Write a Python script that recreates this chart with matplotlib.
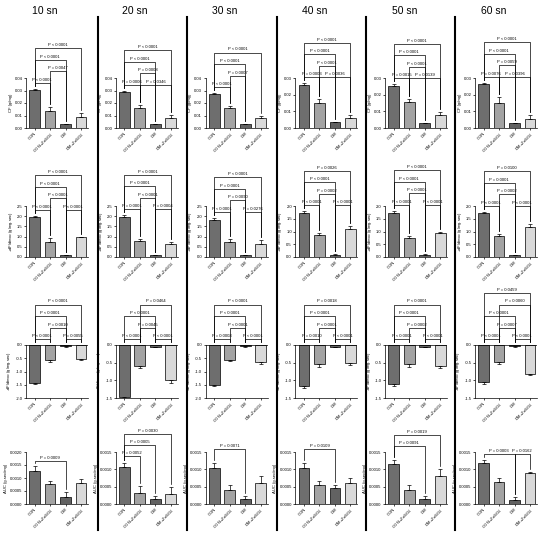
import matplotlib
matplotlib.use('Agg')
import matplotlib.pyplot as plt
from matplotlib.lines import Line2D
from matplotlib.transforms import blended_transform_factory

plt.rcParams['font.family'] = ['Liberation Sans', 'DejaVu Sans']

# groups and time points
groups = ['CON', 'CON+ZnSO$_4$', 'DM', 'DM+ZnSO$_4$']
times = ['10 sn', '20 sn', '30 sn', '40 sn', '50 sn', '60 sn']
bar_colors = ['#6e6e6e', '#a3a3a3', '#626262', '#d9d9d9']

# CF (g/mg)
cf_mean = [[0.0305, 0.0140, 0.0032, 0.0090],
           [0.0290, 0.0158, 0.0030, 0.0078],
           [0.0270, 0.0160, 0.0030, 0.0080],
           [0.0258, 0.0153, 0.0035, 0.0061],
           [0.0252, 0.0155, 0.0030, 0.0080],
           [0.0262, 0.0150, 0.0030, 0.0057]]
cf_err = [[0.0008, 0.0025, 0.0003, 0.0030],
          [0.0008, 0.0025, 0.0003, 0.0030],
          [0.0010, 0.0020, 0.0003, 0.0020],
          [0.0010, 0.0022, 0.0003, 0.0015],
          [0.0010, 0.0020, 0.0003, 0.0015],
          [0.0010, 0.0035, 0.0003, 0.0020]]
cf_top = [0.04, 0.04, 0.04, 0.03, 0.03, 0.03]
cf_p = [[(0, 1, 0, 'P < 0.0001'), (1, 2, 1, 'P = 0.0047'), (0, 2, 2, 'P < 0.0001'), (0, 3, 3, 'P < 0.0001')],
        [(0, 1, 0, 'P = 0.0006'), (1, 3, 0, 'P = 0.0346'), (1, 2, 1, 'P = 0.0008'), (0, 2, 2, 'P < 0.0001'), (0, 3, 3, 'P < 0.0001')],
        [(0, 1, 0, 'P < 0.0001'), (1, 2, 1, 'P = 0.0007'), (0, 2, 2, 'P < 0.0001'), (0, 3, 3, 'P < 0.0001')],
        [(0, 1, 0, 'P = 0.0003'), (1, 3, 0, 'P = 0.0036'), (1, 2, 1, 'P < 0.0001'), (0, 2, 2, 'P < 0.0001'), (0, 3, 3, 'P < 0.0001')],
        [(0, 1, 0, 'P = 0.0015'), (1, 3, 0, 'P = 0.0139'), (1, 2, 1, 'P < 0.0001'), (0, 2, 2, 'P < 0.0001'), (0, 3, 3, 'P < 0.0001')],
        [(0, 1, 0, 'P = 0.0076'), (1, 3, 0, 'P = 0.0396'), (1, 2, 1, 'P = 0.0059'), (0, 2, 2, 'P < 0.0001'), (0, 3, 3, 'P < 0.0001')]]

# +dF/dt max (g/mg.sec)
up_mean = [[1.97, 0.74, 0.08, 0.97],
           [1.95, 0.78, 0.09, 0.65],
           [1.80, 0.75, 0.08, 0.65],
           [1.72, 0.85, 0.08, 1.10],
           [1.72, 0.76, 0.08, 0.95],
           [1.72, 0.82, 0.07, 1.18]]
up_err = [[0.06, 0.18, 0.03, 0.03],
          [0.10, 0.08, 0.03, 0.08],
          [0.12, 0.15, 0.03, 0.20],
          [0.08, 0.10, 0.03, 0.12],
          [0.10, 0.08, 0.03, 0.03],
          [0.05, 0.10, 0.02, 0.10]]
up_top = [2.5, 2.5, 2.5, 2.0, 2.0, 2.0]
up_p = [[(0, 1, 0, 'P < 0.0001'), (2, 3, 0, 'P < 0.0001'), (1, 2, 1, 'P < 0.0001'), (0, 2, 2, 'P < 0.0001'), (0, 3, 3, 'P < 0.0001')],
        [(0, 1, 0, 'P = 0.0001'), (2, 3, 0, 'P = 0.0004'), (1, 2, 1, 'P < 0.0001'), (0, 2, 2, 'P < 0.0001'), (0, 3, 3, 'P < 0.0001')],
        [(0, 1, 0, 'P < 0.0001'), (2, 3, 0, 'P = 0.0276'), (1, 2, 1, 'P = 0.0090'), (0, 2, 2, 'P = 0.0001'), (0, 3, 3, 'P < 0.0001')],
        [(0, 1, 0, 'P < 0.0001'), (2, 3, 0, 'P < 0.0001'), (1, 2, 1, 'P = 0.0002'), (0, 2, 2, 'P < 0.0001'), (0, 3, 3, 'P = 0.0026')],
        [(0, 1, 0, 'P < 0.0001'), (2, 3, 0, 'P < 0.0001'), (1, 2, 1, 'P < 0.0001'), (0, 2, 2, 'P < 0.0001'), (0, 3, 3, 'P < 0.0001')],
        [(0, 1, 0, 'P < 0.0001'), (2, 3, 0, 'P < 0.0001'), (1, 2, 1, 'P = 0.0002'), (0, 2, 2, 'P = 0.0001'), (0, 3, 3, 'P = 0.0100')]]

# -dF/dt max (g/mg.sec)
dn_mean = [[-1.42, -0.57, -0.05, -0.52],
           [-1.48, -0.59, -0.05, -0.98],
           [-1.50, -0.55, -0.05, -0.65],
           [-1.15, -0.55, -0.05, -0.50],
           [-1.10, -0.55, -0.05, -0.60],
           [-1.05, -0.48, -0.04, -0.82]]
dn_err = [[0.05, 0.06, 0.02, 0.05],
          [0.05, 0.06, 0.02, 0.10],
          [0.05, 0.06, 0.02, 0.08],
          [0.06, 0.06, 0.02, 0.06],
          [0.06, 0.06, 0.02, 0.06],
          [0.04, 0.05, 0.02, 0.04]]
dn_bot = [-2.0, -1.5, -2.0, -1.5, -1.5, -1.5]
dn_p = [[(0, 1, 0, 'P < 0.0001'), (2, 3, 0, 'P = 0.0055'), (1, 2, 1, 'P = 0.0010'), (0, 2, 2, 'P < 0.0001'), (0, 3, 3, 'P < 0.0001')],
        [(0, 1, 0, 'P < 0.0001'), (2, 3, 0, 'P < 0.0001'), (1, 2, 1, 'P = 0.0045'), (0, 2, 2, 'P < 0.0001'), (1, 3, 3, 'P = 0.0464')],
        [(0, 1, 0, 'P = 0.0008'), (2, 3, 0, 'P < 0.0001'), (1, 2, 1, 'P < 0.0001'), (0, 2, 2, 'P < 0.0001'), (0, 3, 3, 'P < 0.0001')],
        [(0, 1, 0, 'P = 0.0010'), (2, 3, 0, 'P < 0.0001'), (1, 2, 1, 'P < 0.0001'), (0, 2, 2, 'P < 0.0001'), (0, 3, 3, 'P = 0.0018')],
        [(0, 1, 0, 'P < 0.0001'), (2, 3, 0, 'P < 0.0001'), (1, 2, 1, 'P = 0.0002'), (0, 2, 2, 'P < 0.0001'), (0, 3, 3, 'P < 0.0001')],
        [(0, 1, 0, 'P < 0.0001'), (2, 3, 0, 'P < 0.0001'), (1, 2, 1, 'P = 0.0007'), (0, 2, 2, 'P < 0.0001'), (1, 3, 3, 'P = 0.0060'), (0, 3, 4, 'P = 0.0459')]]

# AUC (g.sec/mg)
auc_mean = [[0.00128, 0.00077, 0.00028, 0.00082],
            [0.00107, 0.00033, 0.00013, 0.00030],
            [0.00105, 0.00040, 0.00015, 0.00060],
            [0.00105, 0.00055, 0.00045, 0.00060],
            [0.00115, 0.00040, 0.00015, 0.00080],
            [0.00118, 0.00063, 0.00012, 0.00088]]
auc_err = [[0.00018, 0.00012, 0.00017, 0.00015],
           [0.00012, 0.00018, 0.00010, 0.00020],
           [0.00012, 0.00015, 0.00008, 0.00020],
           [0.00012, 0.00012, 0.00010, 0.00015],
           [0.00012, 0.00015, 0.00008, 0.00020],
           [0.00010, 0.00012, 0.00008, 0.00004]]
auc_top = [0.002, 0.0015, 0.0015, 0.0015, 0.0015, 0.0015]
auc_p = [[(0, 2, 0, 'P = 0.0009')],
         [(0, 1, 0, 'P = 0.0052'), (0, 2, 1, 'P = 0.0005'), (0, 3, 2, 'P = 0.0030')],
         [(0, 2, 0, 'P = 0.0071')],
         [(0, 2, 0, 'P = 0.0109')],
         [(0, 2, 0, 'P = 0.0091'), (0, 3, 1, 'P = 0.0019')],
         [(0, 2, 0, 'P = 0.0003'), (2, 3, 0, 'P = 0.0162')]]

W, H = 550, 535
fig = plt.figure(figsize=(W / 100, H / 100), dpi=100)

row_box = [(78, 128), (206, 257), (345, 398), (452, 504)]
ylabels = ['CF (g/mg)', '+dF/dt$_{max}$ (g/mg.sec)', '-dF/dt$_{max}$ (g/mg.sec)', 'AUC (g.sec/mg)']
# gap (px) between tallest bar and lowest bracket, AUC row per column
auc_gap = [5, 7, 14, 14, 14, 6]
fs = 3.0


def panel(col, row, means, errs, ylo, yhi, step, fmt, brackets, gap=6.0, stp_px=11.5):
    top_px, bot_px = row_box[row]
    h_px = bot_px - top_px
    left = 26 + col * 89.8
    ax = fig.add_axes([left / W, 1 - bot_px / H, 62 / W, h_px / H])
    x = range(4)
    neg = means[0] < 0
    if neg:
        yerr = [errs, [0] * 4]
    else:
        yerr = [[0] * 4, errs]
    ax.bar(x, means, width=0.7, color=bar_colors, edgecolor='black', linewidth=0.5, zorder=2)
    ax.errorbar(x, means, yerr=yerr, fmt='none', ecolor='black', elinewidth=0.5,
                capsize=1.2, capthick=0.5, zorder=3)
    if neg:
        ax.axhline(0, color='black', lw=0.5, zorder=4)
    ax.set_xlim(-0.55, 3.45)
    ax.set_ylim(ylo, yhi)
    n = int(round((yhi - ylo) / step))
    ticks = [ylo + k * step for k in range(n + 1)]
    ax.set_yticks(ticks)
    ax.set_yticklabels([fmt.format(t) for t in ticks])
    ax.set_xticks(list(x))
    ax.set_xticklabels(groups, rotation=45, ha='right', rotation_mode='anchor')
    for s in ['top', 'right']:
        ax.spines[s].set_visible(False)
    for s in ['left', 'bottom']:
        ax.spines[s].set_linewidth(0.5)
    ax.tick_params(labelsize=fs, length=1.5, width=0.5, pad=1)
    ax.set_ylabel(ylabels[row], fontsize=fs, labelpad=1.5)

    # significance brackets
    rng = yhi - ylo
    tops = []
    for m, e in zip(means, errs):
        v = 0 if neg else m + e
        tops.append((v - ylo) / rng)
    tr = blended_transform_factory(ax.transData, ax.transAxes)
    base = max(tops) + gap / h_px
    stp = stp_px / h_px
    for i, j, lev, lab in brackets:
        y = base + lev * stp
        yi = tops[i] + 3.0 / h_px
        yj = tops[j] + 3.0 / h_px
        ax.plot([i, i, j, j], [yi, y, y, yj], color='black', lw=0.5,
                transform=tr, clip_on=False, zorder=5)
        ax.text((i + j) / 2, y + 1.0 / h_px, lab, fontsize=fs, ha='center', va='bottom',
                transform=tr, clip_on=False)
    return ax


for c in range(6):
    panel(c, 0, cf_mean[c], cf_err[c], 0, cf_top[c], 0.01, '{:.2f}', cf_p[c])
    panel(c, 1, up_mean[c], up_err[c], 0, up_top[c], 0.5, '{:.1f}', up_p[c])
    panel(c, 2, dn_mean[c], dn_err[c], dn_bot[c], 0, 0.5, '{:.1f}', dn_p[c])
    panel(c, 3, auc_mean[c], auc_err[c], 0, auc_top[c], 0.0005, '{:.4f}', auc_p[c],
          gap=auc_gap[c], stp_px=11)
    fig.text((45 + c * 89.8) / W, 1 - 11 / H, times[c], fontsize=7.5, ha='center', va='center')

# column separators
for k in range(1, 6):
    xs = (98 + (k - 1) * 89.3) / W
    fig.add_artist(Line2D([xs, xs], [1 - 17 / H, 1 - 530 / H], color='black', lw=1.5))

fig.savefig('out.png', dpi=100)
